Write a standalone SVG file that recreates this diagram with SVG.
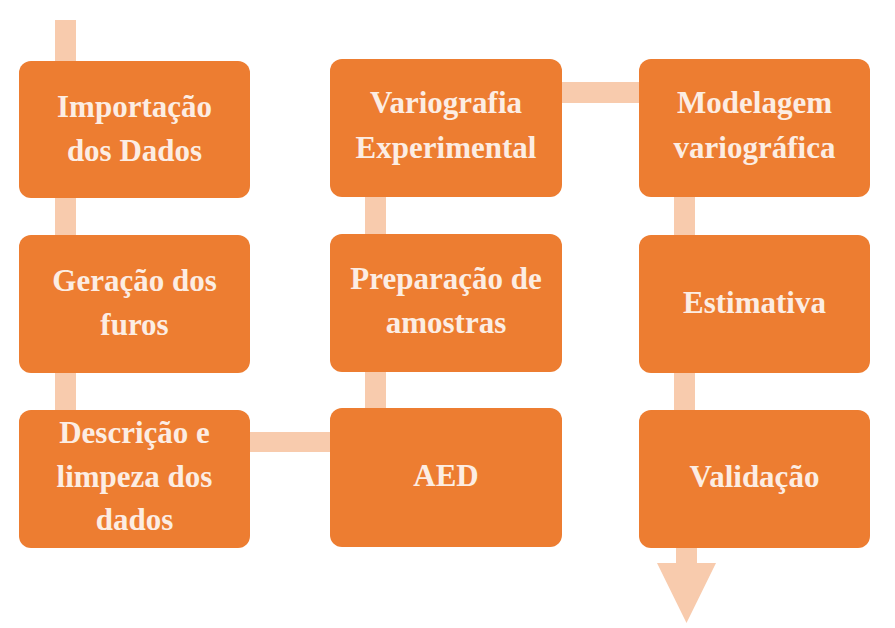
<svg xmlns="http://www.w3.org/2000/svg" width="895" height="628" viewBox="0 0 895 628">
<style>
.box{fill:#ED7D31;}
.con{fill:#F8CBAD;}
.t{font-family:"Liberation Serif","DejaVu Serif",serif;font-weight:bold;font-size:31px;fill:#FCEDE3;text-anchor:middle;}
</style>
<rect width="895" height="628" fill="#FFFFFF"/>
<g id="connectors">
<rect class="con" x="55" y="20" width="21" height="41"/>
<rect class="con" x="55" y="197" width="21" height="39"/>
<rect class="con" x="55" y="372" width="21" height="38"/>
<rect class="con" x="249" y="432" width="82" height="20"/>
<rect class="con" x="365" y="371" width="21" height="38"/>
<rect class="con" x="365" y="196" width="21" height="39"/>
<rect class="con" x="561" y="82" width="79" height="21"/>
<rect class="con" x="674" y="196" width="21" height="40"/>
<rect class="con" x="674" y="372" width="21" height="39"/>
<path class="con" d="M676 547 H697 V563 H716 L686.5 623 L657 563 H676 Z"/>
</g>
<g id="n1"><rect class="box" x="19" y="61" width="231" height="137" rx="12"/>
<text class="t" x="134.5" y="117">Importação</text><text class="t" x="134.5" y="161">dos Dados</text></g>
<g id="n2"><rect class="box" x="19" y="235" width="231" height="138" rx="12"/>
<text class="t" x="134.5" y="291">Geração dos</text><text class="t" x="134.5" y="335">furos</text></g>
<g id="n3"><rect class="box" x="19" y="410" width="231" height="138" rx="12"/>
<text class="t" x="134.5" y="443">Descrição e</text><text class="t" x="134.5" y="487">limpeza dos</text><text class="t" x="134.5" y="530">dados</text></g>
<g id="n4"><rect class="box" x="330" y="408" width="232" height="139" rx="12"/>
<text class="t" x="446" y="486">AED</text></g>
<g id="n5"><rect class="box" x="330" y="234" width="232" height="138" rx="12"/>
<text class="t" x="446" y="289">Preparação de</text><text class="t" x="446" y="333">amostras</text></g>
<g id="n6"><rect class="box" x="330" y="59" width="232" height="138" rx="12"/>
<text class="t" x="446" y="113">Variografia</text><text class="t" x="446" y="158">Experimental</text></g>
<g id="n7"><rect class="box" x="639" y="59" width="231" height="138" rx="12"/>
<text class="t" x="754.5" y="113">Modelagem</text><text class="t" x="754.5" y="158">variográfica</text></g>
<g id="n8"><rect class="box" x="639" y="235" width="231" height="138" rx="12"/>
<text class="t" x="754.5" y="313">Estimativa</text></g>
<g id="n9"><rect class="box" x="639" y="410" width="231" height="138" rx="12"/>
<text class="t" x="754.5" y="487">Validação</text></g>
</svg>
